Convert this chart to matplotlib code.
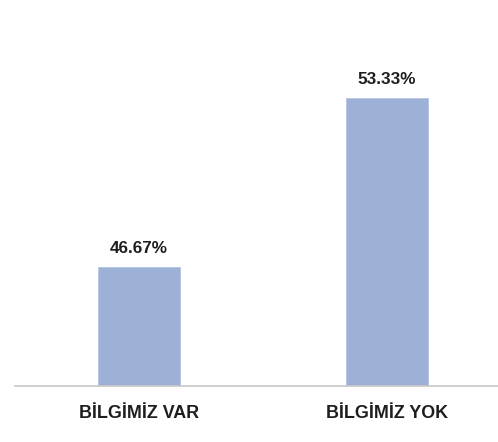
import matplotlib
matplotlib.use("Agg")
import matplotlib.pyplot as plt

categories = ["BİLGİMİZ VAR", "BİLGİMİZ YOK"]
values = [46.67, 53.33]
value_labels = ["46.67%", "53.33%"]

W, H, DPI = 498, 442, 100
fig = plt.figure(figsize=(W / DPI, H / DPI), dpi=DPI)
ax = fig.add_axes([15 / W, 56 / H, (498 - 15) / W, 386 / H])

x = list(range(len(categories)))
bars = ax.bar(x, values, width=0.33, color="#9DB1D6", edgecolor="#B4C4E2", linewidth=0.6, zorder=2)

ax.set_ylim(42, 57.2)
ax.set_xlim(-0.5, 1.448)

for spine in ["top", "right", "left"]:
    ax.spines[spine].set_visible(False)
ax.spines["bottom"].set_color("#C8C8C8")
ax.spines["bottom"].set_linewidth(1.2)

ax.set_yticks([])
ax.set_xticks(x)
ax.set_xticklabels(categories, fontsize=12.9, fontweight="bold", color="#1E1E1E",
                   family=["Liberation Sans", "DejaVu Sans"])
ax.tick_params(axis="x", length=0, pad=14)

for b, lab in zip(bars, value_labels):
    ax.annotate(lab, (b.get_x() + b.get_width() / 2, b.get_height()),
                xytext=(0, 8), textcoords="offset points", ha="center", va="bottom",
                fontsize=12.3, fontweight="bold", color="#1E1E1E",
                family=["Liberation Sans", "DejaVu Sans"])

fig.savefig("out.png", dpi=DPI)
